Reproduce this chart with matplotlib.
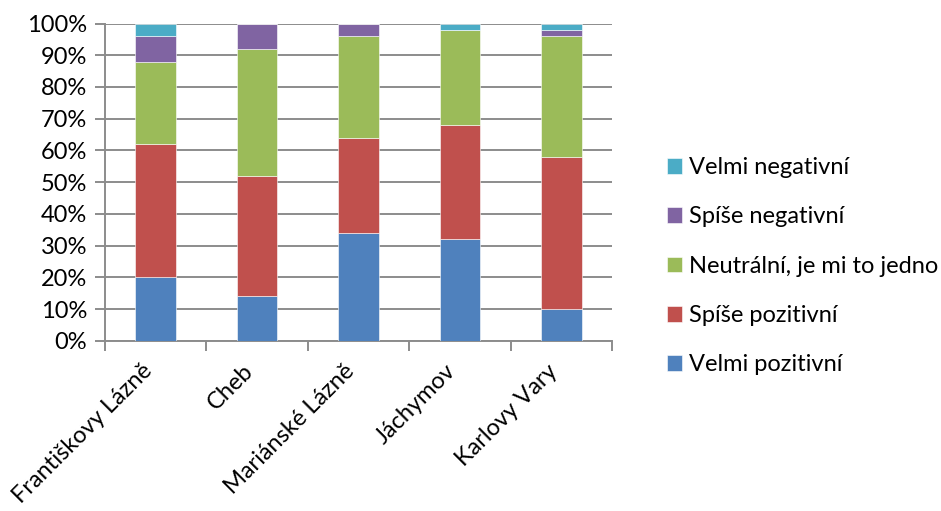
import numpy as np
import matplotlib
matplotlib.use("Agg")
import matplotlib.pyplot as plt
from matplotlib.ticker import FuncFormatter

plt.rcParams['font.family'] = ['Lato', 'DejaVu Sans']

# data (percent)
mesta = ["Františkovy Lázně", "Cheb", "Mariánské Lázně", "Jáchymov", "Karlovy Vary"]
velmi_pozitivni = [20, 14, 34, 32, 10]
spise_pozitivni = [42, 38, 30, 36, 48]
neutralni = [26, 40, 32, 30, 38]
spise_negativni = [8, 8, 4, 0, 2]
velmi_negativni = [4, 0, 0, 2, 2]

serie = [
    ("Velmi pozitivní", velmi_pozitivni, "#4F81BD"),
    ("Spíše pozitivní", spise_pozitivni, "#C0504D"),
    ("Neutrální, je mi to jedno", neutralni, "#9BBB59"),
    ("Spíše negativní", spise_negativni, "#8064A2"),
    ("Velmi negativní", velmi_negativni, "#4BACC6"),
]

fig = plt.figure(figsize=(9.41, 5.11), dpi=100)
ax = fig.add_axes([0.1116, 0.333, 0.539, 0.621])

x = np.arange(len(mesta))
bottom = np.zeros(len(mesta))
handles = []
for name, vals, col in serie:
    vals = np.array(vals, dtype=float)
    b = ax.bar(x, vals, 0.4, bottom=bottom, color=col, label=name,
               edgecolor="white", linewidth=0.4, zorder=3)
    handles.append(b)
    bottom += vals

ax.set_xlim(-0.5, len(mesta) - 0.5)
ax.set_ylim(0, 100)
ax.set_yticks(np.arange(0, 101, 10))
ax.yaxis.set_major_formatter(FuncFormatter(lambda v, p: f"{int(v)}%"))
ax.grid(axis="y", color="#8c8c8c", linewidth=1.4, zorder=0)

# category boundary ticks
ax.set_xticks(np.arange(-0.5, len(mesta)), minor=False)
ax.set_xticklabels([])
ax.set_xticks(x, minor=True)
ax.set_xticklabels(mesta, minor=True, rotation=45, ha="right", va="top",
                   rotation_mode="default", fontsize=17)
ax.tick_params(axis="x", which="minor", length=0, pad=14)
ax.tick_params(axis="x", which="major", length=7, width=1.4, color="#8c8c8c")
ax.tick_params(axis="y", length=7, width=1.4, color="#8c8c8c", labelsize=17, pad=6)

for s in ["top", "right"]:
    ax.spines[s].set_visible(False)
for s in ["left", "bottom"]:
    ax.spines[s].set_color("#8c8c8c")
    ax.spines[s].set_linewidth(1.4)

fig.legend(handles[::-1], [s[0] for s in serie][::-1], loc="center left",
           bbox_to_anchor=(0.686, 0.479), frameon=False, fontsize=17,
           handlelength=0.65, handleheight=0.65, handletextpad=0.3,
           labelspacing=1.2)

fig.savefig("out.png", dpi=100)
